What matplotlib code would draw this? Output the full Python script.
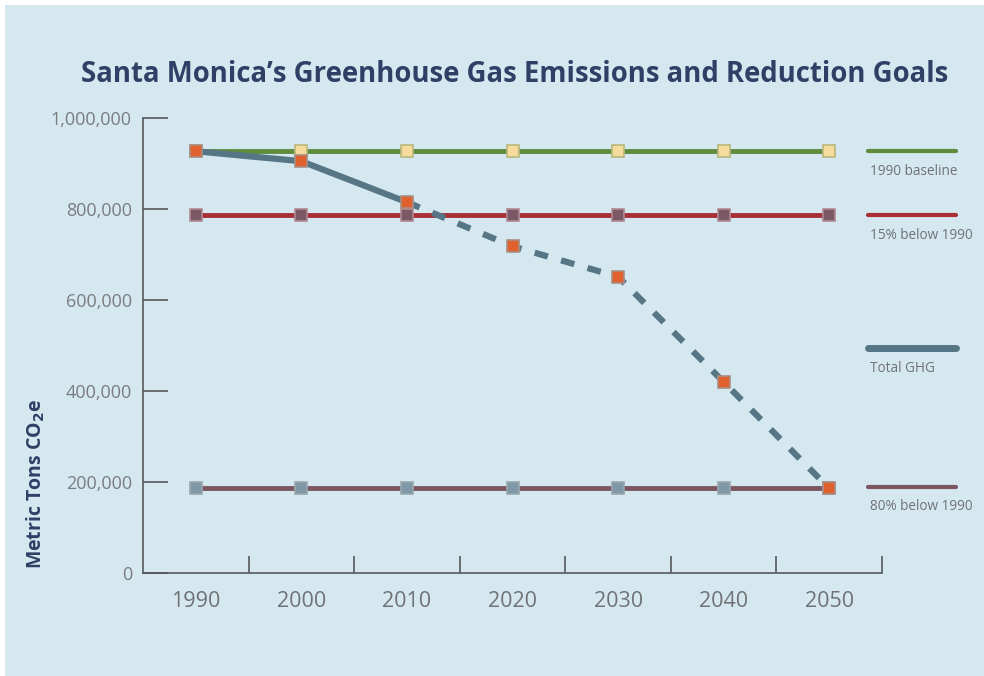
import matplotlib

matplotlib.use("Agg")
import matplotlib.pyplot as plt
from matplotlib.patches import Rectangle
from matplotlib.ticker import FixedLocator, FuncFormatter

years = ["1990", "2000", "2010", "2020", "2030", "2040", "2050"]
baseline_1990 = [927000] * 7
below_15 = [787000] * 7
below_80 = [186000] * 7
total_ghg = [927000, 905000, 815000, 718000, 651000, 420000, 186000]
n_actual = 3  # 1990-2010 are measured, the rest is the goal path

legend_labels = ["1990 baseline", "15% below 1990", "Total GHG", "80% below 1990"]
legend_y = [927000, 787000, 494000, 190000]

BG = "#d5e8f0"
NAVY = "#2e4066"
GRAY = "#707275"
GREEN = "#5e8b3c"
RED = "#a82f36"
MAUVE = "#7a5661"
STEEL = "#567585"

plt.rcParams["font.family"] = ["Open Sans", "DejaVu Sans"]

fig = plt.figure(figsize=(9.84, 6.76), dpi=100)
fig.patch.set_facecolor("white")
fig.patches.append(Rectangle((5 / 984, 0), 1, 1 - 5 / 676, transform=fig.transFigure,
                             facecolor=BG, edgecolor="none", zorder=-10))

ax = fig.add_axes([143 / 984, 1 - 573 / 676, (882 - 143) / 984, (573 - 118) / 676])
ax.set_facecolor("none")
x = list(range(len(years)))

marker = dict(marker="s", markersize=9, markeredgewidth=1.2)
ax.plot(x, baseline_1990, color=GREEN, lw=3.5, markerfacecolor="#f6dc9c",
        markeredgecolor="#b9b77c", zorder=2, **marker)
ax.plot(x, below_15, color=RED, lw=3.5, markerfacecolor="#7a5866",
        markeredgecolor="#b08a92", zorder=2, **marker)
ax.plot(x, below_80, color=MAUVE, lw=3.5, markerfacecolor="#7f97a6",
        markeredgecolor="#9aa7ae", zorder=2, **marker)

ax.plot(x[:n_actual], total_ghg[:n_actual], color=STEEL, lw=4.5,
        solid_capstyle="round", zorder=3)
ax.plot(x[n_actual - 1:], total_ghg[n_actual - 1:], color=STEEL, lw=4.5,
        linestyle=(0, (2.2, 2.2)), zorder=3)
ax.plot(x, total_ghg, linestyle="none", markerfacecolor="#e0612e",
        markeredgecolor="#a88e84", zorder=4, **marker)

ax.set_xlim(-0.5, 6.5)
ax.set_ylim(0, 1000000)
ax.spines["top"].set_visible(False)
ax.spines["right"].set_visible(False)
for s in ("left", "bottom"):
    ax.spines[s].set_color("#55585c")
    ax.spines[s].set_linewidth(1.2)

ax.yaxis.set_major_locator(FixedLocator([0, 200000, 400000, 600000, 800000, 1000000]))
ax.yaxis.set_major_formatter(FuncFormatter(lambda v, p: f"{int(v):,}"))
ax.tick_params(axis="y", direction="in", length=18, width=1.2, color="#55585c",
               labelsize=13, labelcolor="#7a7c80", pad=8)

ax.xaxis.set_major_locator(FixedLocator([i + 0.5 for i in x]))
ax.xaxis.set_major_formatter(FuncFormatter(lambda v, p: ""))
ax.xaxis.set_minor_locator(FixedLocator(x))
ax.set_xticklabels(years, minor=True)
ax.tick_params(axis="x", which="major", direction="in", length=12, width=1.2,
               color="#55585c")
ax.tick_params(axis="x", which="minor", length=0, labelsize=15.5,
               labelcolor=GRAY, pad=13)

ax.set_ylabel("Metric Tons CO$_\\mathbf{2}$e", color=NAVY, fontsize=14,
              fontweight="bold")
ax.yaxis.set_label_coords(-0.13, 0.195)

# legend at the right: short line with its label below
legend_colors = [GREEN, RED, STEEL, MAUVE]
legend_lw = [3, 3, 5, 3]
for lab, ly, col, lw in zip(legend_labels, legend_y, legend_colors, legend_lw):
    ax.plot([6.37, 7.2], [ly, ly], color=col, lw=lw, solid_capstyle="round",
            clip_on=False)
    ax.text(6.39, ly - 28000, lab, color=GRAY, fontsize=9.8, va="top", ha="left",
            clip_on=False)

fig.text(515 / 984, 1 - 74 / 676,
         "Santa Monica\u2019s Greenhouse Gas Emissions and Reduction Goals",
         ha="center", va="center", fontsize=19.8, fontweight="bold", color=NAVY)

fig.savefig("out.png", dpi=100)
